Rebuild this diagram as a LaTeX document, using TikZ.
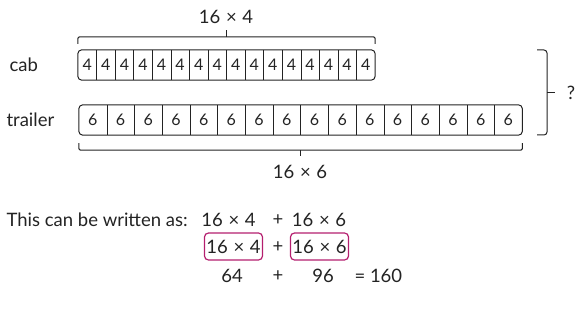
\documentclass[tikz,border=0pt]{standalone}
\usepackage{fontspec}
\setmainfont{Lato}
\definecolor{inkgray}{RGB}{35,35,35}
\definecolor{boxpink}{RGB}{180,30,110}
\usetikzlibrary{positioning}
\newcommand{\tms}{\hspace{0.3em}×\hspace{0.3em}}

\begin{document}
\begin{tikzpicture}[x=1pt, y=-1pt, inkgray,
                cellfour/.style={minimum width=18.56pt, minimum height=30pt, inner sep=0pt,
                                 font=\fontsize{16}{18}\selectfont},
                cellsix/.style={minimum width=27.7pt, minimum height=30pt, inner sep=0pt,
                                font=\fontsize{16}{18}\selectfont},
                bar/.style={draw, line width=1pt, rounded corners=4pt},
                brace/.style={draw, line width=1pt, rounded corners=1.5pt},
                lbl/.style={font=\fontsize{18.5}{21}\selectfont},
                sumbox/.style={draw=boxpink, line width=1.2pt, rounded corners=4pt,
                               inner xsep=2pt, minimum height=27pt, font=\fontsize{18.5}{21}\selectfont}
            ]
                \useasboundingbox (0,0) rectangle (586,334);

                \foreach \i in {1,...,16}
                    \node[cellfour] (cab\i) at ({78+18.56*(\i-0.5)},65) {4};
                \foreach \i in {1,...,16}
                    \node[cellsix] (tr\i) at ({79+27.7*(\i-0.5)},120) {6};

                \draw[bar] (cab1.north west) rectangle (cab16.south east);
                \draw[bar] (tr1.north west) rectangle (tr16.south east);
                \foreach \i in {1,...,15} {
                    \draw[line width=0.8pt] (cab\i.north east) -- (cab\i.south east);
                    \draw[line width=0.8pt] (tr\i.north east) -- (tr\i.south east);
                }

                \node[lbl, anchor=west] (cab) at (6,65) {cab};
                \node[lbl, anchor=west] (trailer) at (3,120) {trailer};

                \draw[brace] ([yshift=6pt]cab1.north west) -- ([yshift=13pt]cab1.north west)
                    -- ([yshift=13pt]cab16.north east) -- ([yshift=6pt]cab16.north east);
                \coordinate (toptick) at ([yshift=13pt]cab8.north east);
                \draw[line width=1pt] (toptick) -- ++(0,-7);
                \node[lbl] (topsum) at (226,17) {16\tms 4};

                \draw[brace] ([yshift=-8pt]tr1.south west) -- ([yshift=-15pt]tr1.south west)
                    -- ([yshift=-15pt]tr16.south east) -- ([yshift=-8pt]tr16.south east);
                \coordinate (bottick) at ([yshift=-15pt]tr8.south east);
                \draw[line width=1pt] (bottick) -- ++(0,6);
                \node[lbl] (botsum) at (300,172) {16\tms 6};

                \draw[brace, rounded corners=3pt] (537,50) -- (547,50) -- (547,135) -- (537,135);
                \coordinate (qtick) at (547,93);
                \node[lbl] (total) at (571,93) {?};
                \draw[line width=1pt] (qtick) -- ++(8,0);

                \node[lbl, anchor=west] (written) at (3,220) {This can be written as:};
                \node[lbl] (eqa) at (228.5,220) {16\tms 4};
                \node[lbl] (plusa) at (278,220) {+};
                \node[lbl] (eqb) at (319,220) {16\tms 6};

                \node[sumbox] (boxa) at (233.5,246.5) {16\tms 4};
                \node[lbl] (plusb) at (278,247) {+};
                \node[sumbox] (boxb) at (319.5,246.5) {16\tms 6};

                \node[lbl] (prodfour) at (232,276) {64};
                \node[lbl] (plusc) at (278,276) {+};
                \node[lbl] (prodsix) at (323,276) {96};
                \node[lbl, anchor=west] (result) at (351,276) {= 160};
            \end{tikzpicture}
\end{document}
